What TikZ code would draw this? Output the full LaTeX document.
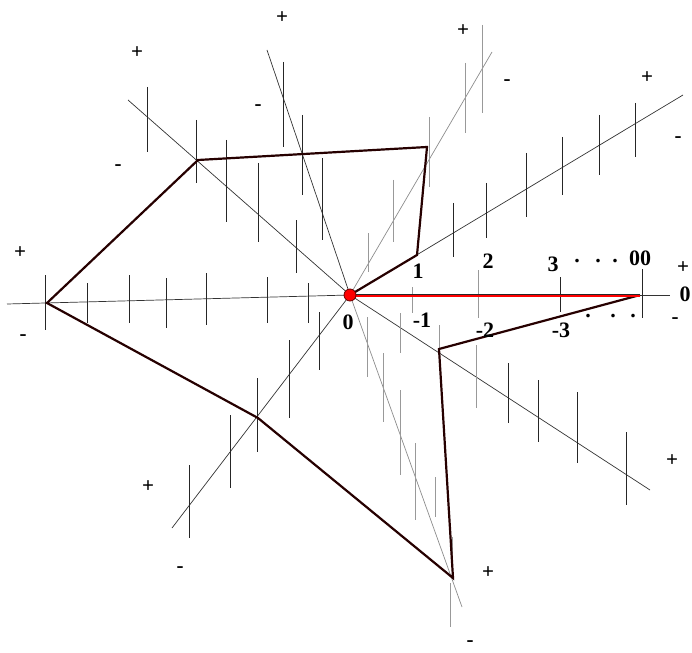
\documentclass[tikz,border=0pt]{standalone}
\usepackage{fontspec}
\setmainfont{Liberation Serif}
\usetikzlibrary{calc}

\tikzset{
  ray/.style={line width=0.7pt, black!80},
  faint/.style={line width=0.7pt, black!45},
  tick/.style={line width=0.9pt, black!85},
  faintick/.style={line width=0.9pt, black!40},
  rim/.style={line width=2.2pt, black!85!red, line join=miter},
  sgn/.style={font=\bfseries\fontsize{21}{21}\selectfont, inner sep=0pt},
  num/.style={font=\bfseries\fontsize{22}{22}\selectfont, inner sep=0pt},
}

\begin{document}
\begin{tikzpicture}[x=1pt, y=-1pt]
  \useasboundingbox (0,0) rectangle (692,652);
  \coordinate (O) at (350,295);
  \coordinate (eL) at (7,304);
  \coordinate (eR) at (670,295);
  \coordinate (eA) at (128,100);
  \coordinate (eB) at (267,50);
  \coordinate (eBl) at (462,607);
  \coordinate (eC) at (492,52);
  \coordinate (eD) at (683,95);
  \coordinate (eE) at (650,490);
  \coordinate (eG) at (172,528);
  \draw[ray] (O) -- (eL);
  \draw[ray] (O) -- (eR);
  \draw[ray] (O) -- (eA);
  \draw[ray] (O) -- (eB);
  \draw[faint] (O) -- (eBl);
  \draw[faint] (O) -- (eC);
  \draw[ray] (O) -- (eD);
  \draw[ray] (O) -- (eE);
  \draw[ray] (O) -- (eG);
  % ticks: x / top / bottom
  \foreach \x/\a/\b in {45/275/330, 87/283/323, 129/275/323, 166/278/328, 206/273/325, 267/277/323, 308/283/323,
      560/277/312, 642/269/318,
      147/87/152, 196/120/183, 226/140/222, 258/163/242, 296/220/273,
      283/62/147, 302/115/195, 322/158/240,
      635/103/157, 599/115/175, 562/137/195, 526/153/217, 486/183/238, 453/203/257,
      508/363/423, 538/380/442, 577/392/463, 626/432/505,
      189/465/538, 230/415/488, 257/378/452, 289/340/418, 319/312/370}
    \draw[tick] (\x,\a) -- (\x,\b);
  \foreach \x/\a/\b in {412/287/313, 478/270/318,
      482/25/113, 465/63/133, 429/117/187, 393/180/242, 368/233/272,
      367/317/377, 383/353/422, 400/390/475, 415/443/520, 435/477/517, 452/537/567, 450/583/627,
      400/313/353, 439/325/350, 476/345/408}
    \draw[faintick] (\x,\a) -- (\x,\b);
  % the polygon
  \coordinate (p1) at (417,255);
  \coordinate (p2) at (427,147);
  \coordinate (p3) at (198,160);
  \coordinate (p4) at (47,303);
  \coordinate (p5) at (258,418);
  \coordinate (p6) at (453,578);
  \coordinate (p7) at (439,349);
  \coordinate (p8) at (640,295);
  \draw[rim] (p8) -- (p7) -- (p6) -- (p5) -- (p4) -- (p3) -- (p2) -- (p1) -- (O);
  \draw[red, line width=2.8pt] ($(O)+(0,0.6)$) -- ($(p8)+(0,0.6)$);
  \draw[black!85, line width=0.9pt] ($(O)+(0,-0.8)$) -- ($(p8)+(0,-0.8)$);
  \fill[red, draw=black!60!red, line width=0.8pt] (O) circle (6);
  % scale labels
  \node[num] (n0) at (348,322) {0};
  \node[num] (n1) at (418,271) {1};
  \node[num] (m1) at (422,320) {-1};
  \node[num] (n2) at (488,261) {2};
  \node[num] (m2) at (485,330) {-2};
  \node[num] (n3) at (553,264) {3};
  \node[num] (m3) at (561,330) {-3};
  \node[num] (ninf) at (640,258) {00};
  \node[num] (z) at (685,294) {0};
  \foreach \x in {577,598,615} \node[num] at (\x,261) {.};
  \foreach \x in {588,613,633} \node[num] at (\x,316) {.};
  % end signs
  \foreach \x/\y/\s in {282/18/+, 137/53/+, 258/108/-, 118/168/-, 20/253/+, 23/338/-,
      463/31/+, 507/83/-, 647/78/+, 678/140/-, 683/268/+, 675/321/-,
      672/461/+, 488/573/+, 470/644/-, 148/487/+, 180/570/-}
    \node[sgn] at (\x,\y) {\s};
\end{tikzpicture}
\end{document}
